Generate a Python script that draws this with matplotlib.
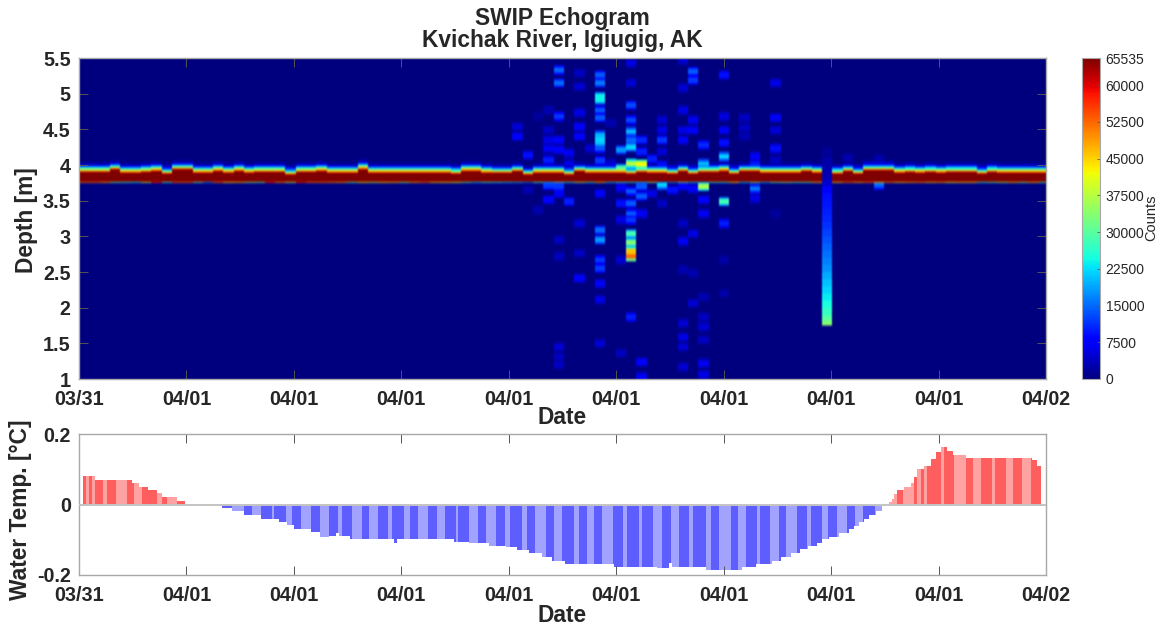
import numpy as np
import matplotlib
matplotlib.use('Agg')
import matplotlib.pyplot as plt
from matplotlib.cm import ScalarMappable
from matplotlib.colors import Normalize

plt.rcParams['font.family'] = ['Liberation Sans', 'DejaVu Sans']

# ---------- data ----------
date_labels = ['03/31', '04/01', '04/01', '04/01', '04/01', '04/01', '04/01', '04/01', '04/01', '04/02']
depth_ticks = [1, 1.5, 2, 2.5, 3, 3.5, 4, 4.5, 5, 5.5]
depth_labels = ['1', '1.5', '2', '2.5', '3', '3.5', '4', '4.5', '5', '5.5']
count_ticks = [0, 7500, 15000, 22500, 30000, 37500, 45000, 52500, 60000, 65535]

# top of the saturated surface return, per ping column [m]
surface_top = [3.917, 3.917, 3.917, 3.945, 3.905, 3.905, 3.917, 3.93, 3.885, 3.945,
               3.945, 3.905, 3.905, 3.93, 3.905, 3.93, 3.905, 3.917, 3.917, 3.917,
               3.875, 3.917, 3.917, 3.93, 3.905, 3.905, 3.905, 3.955, 3.905, 3.905,
               3.905, 3.905, 3.905, 3.905, 3.905, 3.905, 3.89, 3.93, 3.93, 3.905,
               3.895, 3.895, 3.92, 3.87, 3.905, 3.905, 3.905, 3.875, 3.92, 3.905,
               3.905, 3.905, 3.905, 3.885, 3.915, 3.905, 3.905, 3.885, 3.92, 3.885,
               3.915, 3.915, 3.93, 3.885, 3.92, 3.92, 3.905, 3.905, 3.905, 3.905,
               3.92, 3.905, np.nan, 3.89, 3.92, 3.885, 3.935, 3.935, 3.935, 3.905,
               3.915, 3.905, 3.915, 3.905, 3.915, 3.915, 3.915, 3.885, 3.915, 3.905,
               3.905, 3.905, 3.905, 3.905]

# counts in the thin line under the surface return, per column
under_line = [52000, 52000, 48000, 30000, 26000, 24000, 38000, 58000, 26000, 52000,
              52000, 30000, 18000, 52000, 44000, 46000, 34000, 30000, 58000, 50000,
              38000, 58000, 52000, 52000, 50000, 48000, 30000, 42000, 38000, 44000,
              46000, 34000, 48000, 52000, 46000, 44000, 40000, 30000, 22000, 26000,
              24000, 22000, 20000, 16000, 26000, 20000, 30000, 24000, 36000, 26000,
              46000, 22000, 26000, 24000, 24000, 34000, 16000, 18000, 30000, 22000,
              18000, 28000, 26000, 44000, 22000, 32000, 20000, 30000, 34000, 28000,
              30000, 46000, np.nan, 46000, 52000, 48000, 52000, 46000, 50000, 46000,
              48000, 50000, 46000, 48000, 42000, 44000, 44000, 26000, 30000, 36000,
              46000, 34000, 46000, 30000]

# offset above the surface top [m] -> counts
band_offsets = [0.014, 0.028, 0.042, 0.056, 0.070, 0.085, 0.110, 0.135]
band_counts = [46000, 36000, 25000, 20000, 14000, 8000, 3500, 1200]

# scattered echoes: column -> (depth, counts)
echo_46 = [(5.33, 15000), (5.15, 15000), (4.68, 12000), (4.35, 8000), (4.21, 8000), (3.70, 12000), (3.60, 7000), (2.95, 4000), (2.72, 4000), (1.45, 5000), (1.31, 4000), (1.20, 4000)]
echo_48 = [(5.29, 4000), (5.10, 5000), (4.73, 6000), (4.54, 8000), (4.40, 8000), (3.18, 5000), (2.76, 4000), (2.41, 8000)]
echo_50 = [(5.26, 14000), (5.15, 16000), (4.96, 24000), (4.91, 24000), (4.77, 14000), (4.66, 14000), (4.42, 20000), (4.35, 22000), (4.31, 20000), (4.23, 14000), (4.06, 12000), (3.60, 8000), (3.09, 15000), (2.95, 18000), (2.67, 12000), (2.55, 12000), (2.34, 8000), (2.11, 6000), (1.50, 5000)]
echo_42 = [(4.54, 5000), (4.40, 8000)]
echo_43 = [(4.14, 9000), (3.65, 3000)]
echo_44 = [(4.68, 2000), (3.37, 3000)]
echo_45 = [(4.77, 3000), (4.49, 4000), (4.35, 6000), (4.23, 7000), (4.07, 10000), (3.71, 12000), (3.51, 8000)]
echo_47 = [(4.17, 7000), (4.02, 6000), (3.49, 10000)]
echo_49 = [(4.23, 5000)]
echo_51 = [(4.59, 3000), (4.02, 5000)]
echo_52 = [(4.21, 18000), (3.95, 30000), (3.68, 8000), (3.46, 9000), (3.23, 6000), (2.67, 5000), (1.36, 4000)]
echo_53 = [(5.43, 6000), (5.15, 5000), (4.84, 13000), (4.63, 13000), (4.47, 20000), (4.35, 15000), (4.25, 22000), (4.02, 38000), (3.63, 14000), (3.46, 14000), (3.32, 14000), (3.23, 12000), (3.04, 28000), (2.91, 33000), (2.79, 46000), (2.72, 52000), (1.87, 10000)]
echo_54 = [(4.35, 11000), (4.19, 10000), (4.01, 42000), (3.70, 14000), (3.56, 14000), (3.32, 8000), (1.24, 8000), (1.03, 7000)]
echo_55 = [(4.09, 10000), (3.60, 6000)]
echo_56 = [(4.63, 5000), (4.49, 6000), (4.35, 12000), (4.19, 5000), (4.00, 9000), (3.72, 22000), (3.46, 4000)]
echo_57 = [(3.65, 9000)]
echo_58 = [(5.47, 5000), (5.08, 5000), (4.77, 6000), (4.49, 6000), (4.35, 7000), (3.70, 7000), (3.18, 4000), (2.93, 7000), (2.53, 3000), (1.78, 5000), (1.59, 6000), (1.45, 5000), (1.17, 5000)]
echo_59 = [(5.31, 14000), (5.19, 12000), (4.63, 7000), (4.49, 7000), (3.67, 8000), (3.04, 6000), (2.48, 3000), (2.06, 5000)]
echo_60 = [(4.28, 11000), (4.02, 20000), (3.70, 36000), (3.51, 8000), (3.32, 7000), (2.15, 3000), (1.87, 4000), (1.73, 5000), (1.55, 4000), (1.22, 7000), (1.06, 6000)]
echo_62 = [(5.26, 9000), (4.68, 6000), (4.49, 7000), (4.31, 9000), (4.12, 22000), (3.49, 28000), (3.18, 10000), (2.67, 2500), (2.20, 2500)]
echo_64 = [(4.66, 4000), (4.52, 4000), (4.40, 3000)]
echo_65 = [(4.12, 8000), (4.00, 10000), (3.67, 16000), (3.53, 6000)]
echo_67 = [(5.15, 6000), (4.66, 8000), (4.49, 5000), (4.23, 9000), (4.07, 4000), (3.32, 2000)]
echo_74 = [(4.10, 3000)]
echo_77 = [(4.08, 3000), (3.72, 15000)]
echo_columns = {42: echo_42, 43: echo_43, 44: echo_44, 45: echo_45, 46: echo_46, 47: echo_47,
                48: echo_48, 49: echo_49, 50: echo_50, 51: echo_51, 52: echo_52, 53: echo_53,
                54: echo_54, 55: echo_55, 56: echo_56, 57: echo_57, 58: echo_58, 59: echo_59,
                60: echo_60, 62: echo_62, 64: echo_64, 65: echo_65, 67: echo_67, 74: echo_74, 77: echo_77}

# the tall column: upper depth of each cell and its counts
tall_column = 72
tall_depths = [4.25, 4.1, 3.95, 3.8, 3.7, 3.6, 3.5, 3.4, 3.3, 3.2, 3.1, 3.0, 2.9, 2.8, 2.7, 2.6, 2.5, 2.4, 2.3, 2.2, 2.1, 2.0, 1.9, 1.85, 1.8]
tall_counts = [1500, 2500, 3000, 4500, 8000, 9000, 9500, 10000, 10500, 11500, 12500, 13500, 14500, 15500, 16500, 17500, 19000, 20500, 22000, 23500, 25000, 27000, 29000, 31000, 34000]

# water temperature: sample where a step starts, and its value
temp_x = [4, 16, 53, 60, 69, 78, 83, 98, 106, 115, 138, 143, 153, 165, 182, 200, 208, 215, 232, 241,
          250, 257, 260, 271, 315, 318, 375, 390, 410, 427, 438, 450, 463, 473, 486, 525, 535, 578, 590, 593,
          627, 663, 677, 693, 702, 712, 721, 729, 738, 743, 750, 760, 770, 775, 780, 785, 790, 797, 803, 806,
          810, 813, 815, 818, 825, 832, 835, 838, 845, 852, 857, 862, 868, 874, 887, 893, 915, 953, 958]
temp_v = [.081, .0705, .06, .051, .04, .032, .021, .0103, .002, 0, -.004, -.01, -.019, -.03, -.04, -.049, -.058, -.07, -.079, -.091,
          -.089, -.08, -.089, -.099, -.108, -.099, -.106, -.109, -.118, -.12, -.128, -.137, -.149, -.159, -.169, -.168, -.177, -.179, -.167, -.178,
          -.186, -.178, -.17, -.16, -.15, -.139, -.127, -.118, -.109, -.099, -.091, -.082, -.07, -.061, -.05, -.04, -.03, -.018, -.005, 0,
          .0066, .016, .03, .041, .051, .06, .077, .10, .11, .129, .15, .162, .152, .141, .132, .131, .132, .126, .11]
temp_end = 962

# samples where the bar shade flips (dark first, then alternating)
shade_flips = [4, 7, 10, 13, 16, 24, 28, 37, 48, 55, 63, 78, 83, 88, 98, 106, 138, 153, 165, 173, 182, 193, 195, 207,
               213, 222, 232, 241, 250, 259, 263, 273, 283, 290, 299, 309, 313, 325, 331, 339, 349, 358, 366, 377,
               379, 390, 399, 407, 417, 426, 431, 443, 448, 456, 467, 475, 483, 495, 500, 508, 515, 523, 534, 544,
               548, 560, 563, 574, 583, 592, 600, 610, 614, 627, 632, 640, 652, 659, 667, 678, 681, 691, 700, 707,
               718, 728, 732, 743, 749, 758, 768, 776, 784, 796, 804, 810, 818, 824, 835, 838, 842, 845, 848, 862,
               865, 875, 887, 894, 902, 913, 916, 927, 934, 943, 952]

# ---------- layout ----------
W, H = 1159, 629
fig = plt.figure(figsize=(W / 100, H / 100), dpi=100, facecolor='white')


def box(x0, y0, x1, y1):
    return [x0 / W, 1 - y1 / H, (x1 - x0) / W, (y1 - y0) / H]


ax1 = fig.add_axes(box(79, 58, 1046, 379))
ax2 = fig.add_axes(box(79, 434, 1046, 575))
cax = fig.add_axes(box(1082, 58, 1100, 379))

X_SPAN = 967.0
COL_W = 10.32
TICK_STEP = X_SPAN / 9
x_ticks = [TICK_STEP * i for i in range(10)]

# ---------- echogram ----------
n_cols = len(surface_top)
row_edges = np.arange(1.0, 5.5 + 1e-6, 0.0125)
row_mid = (row_edges[:-1] + row_edges[1:]) / 2
grid = np.zeros((len(row_mid), n_cols))

for col, echoes in echo_columns.items():
    for d, v in echoes:
        halo = np.abs(row_mid - d) < 0.065
        core = np.abs(row_mid - d) < 0.035
        grid[halo, col] = np.maximum(grid[halo, col], v * 0.6)
        grid[core, col] = np.maximum(grid[core, col], v)

for d_top, v in zip(tall_depths, tall_counts):
    sel = (row_mid <= d_top) & (row_mid >= 1.75)
    grid[sel, tall_column] = v

BAND_BOTTOM = 3.765
for c in range(n_cols):
    top = surface_top[c]
    if np.isnan(top):
        continue
    sel = (row_mid >= BAND_BOTTOM) & (row_mid <= top)
    grid[sel, c] = 65535
    grid[(row_mid > top - 0.012) & (row_mid <= top), c] = 60000
    prev = 0.0
    for off, v in zip(band_offsets, band_counts):
        s = (row_mid > top + prev) & (row_mid <= top + off)
        grid[s, c] = np.maximum(grid[s, c], v)
        prev = off
    grid[(row_mid < BAND_BOTTOM) & (row_mid >= BAND_BOTTOM - 0.0125), c] = under_line[c]

# one image pixel per sample across; the colours are softened slightly, as in the scanned figure
x_mid = np.arange(int(X_SPAN)) + 0.5
col_of_x = np.minimum((x_mid / COL_W).astype(int), n_cols - 1)
cmap = plt.get_cmap('jet')
norm = Normalize(0, 65535)
rgb = cmap(norm(grid[:, col_of_x]))[:, :, :3]
for axis, kernel in ((0, np.array([1, 2, 3, 2, 1]) / 9.0), (1, np.array([1, 2, 1]) / 4.0)):
    pad = len(kernel) // 2
    widths_pad = [(0, 0)] * 3
    widths_pad[axis] = (pad, pad)
    padded = np.pad(rgb, widths_pad, mode='edge')
    rgb = np.apply_along_axis(lambda m: np.convolve(m, kernel, mode='valid'), axis, padded)

ax1.imshow(rgb, origin='lower', extent=(0, X_SPAN, 1, 5.5), aspect='auto', interpolation='bilinear')
ax1.set_xlim(0, X_SPAN)
ax1.set_ylim(1, 5.5)
ax1.set_yticks(depth_ticks)
ax1.set_yticklabels(depth_labels)

# ---------- temperature bars ----------
edges = sorted(set(temp_x) | set(shade_flips) | {temp_end})
edges = [e for e in edges if temp_x[0] <= e <= temp_end]
temp_x_arr = np.array(temp_x)
flips_arr = np.array(shade_flips)
lefts, widths, heights, colors = [], [], [], []
for a, b in zip(edges[:-1], edges[1:]):
    v = temp_v[np.searchsorted(temp_x_arr, a, side='right') - 1]
    dark = (np.searchsorted(flips_arr, a, side='right') - 1) % 2 == 0
    if v >= 0:
        col = '#ff5e5e' if dark else '#ffa2a2'
    else:
        col = '#5e5eff' if dark else '#a2a2ff'
    lefts.append(a)
    widths.append(b - a)
    heights.append(v)
    colors.append(col)
ax2.bar(lefts, heights, width=widths, align='edge', color=colors, linewidth=0)
ax2.axhline(0, color='#c4c4c4', lw=1.4, zorder=3)
ax2.set_xlim(0, X_SPAN)
ax2.set_ylim(-0.2, 0.2)
ax2.set_yticks([-0.2, 0, 0.2])
ax2.set_yticklabels(['-0.2', '0', '0.2'])

# ---------- shared styling ----------
for ax in (ax1, ax2):
    ax.set_xticks(x_ticks)
    ax.set_xticklabels(date_labels)
    ax.tick_params(axis='both', direction='in', length=6.5, width=0.7, color='#555555',
                   top=True, right=True, labelsize=14.2, labelcolor='#262626')
    ax.tick_params(axis='x', pad=8)
    ax.tick_params(axis='y', pad=6)
    for lab in ax.get_xticklabels() + ax.get_yticklabels():
        lab.set_fontweight('bold')
    for sp in ax.spines.values():
        sp.set_color('#a8a8a8')
        sp.set_linewidth(1.0)

# ---------- colour bar ----------
cb = fig.colorbar(ScalarMappable(norm=norm, cmap=cmap), cax=cax)
cb.set_ticks(count_ticks)
cb.set_ticklabels([str(t) for t in count_ticks])
cb.ax.tick_params(direction='in', length=2.5, width=0.6, color='#555555', labelsize=10, labelcolor='#262626', pad=4)
cb.outline.set_edgecolor('#a8a8a8')
cb.outline.set_linewidth(0.8)

# ---------- text ----------
bold = dict(fontweight='bold', color='#262626', ha='center', va='center')
fig.text(562 / W, 1 - 18 / H, 'SWIP Echogram', fontsize=16.4, **bold)
fig.text(562 / W, 1 - 40 / H, 'Kvichak River, Igiugig, AK', fontsize=16.4, **bold)
fig.text(562 / W, 1 - 418 / H, 'Date', fontsize=16.4, **bold)
fig.text(562 / W, 1 - 615 / H, 'Date', fontsize=16.4, **bold)
fig.text(27 / W, 1 - 220 / H, 'Depth [m]', fontsize=16.4, rotation=90, **bold)
fig.text(21 / W, 1 - 510 / H, 'Water Temp. [°C]', fontsize=16.4, rotation=90, **bold)
fig.text(1151 / W, 1 - 218 / H, 'Counts', fontsize=10.5, rotation=90, color='#262626', ha='center', va='center')

fig.savefig('out.png', dpi=100)
